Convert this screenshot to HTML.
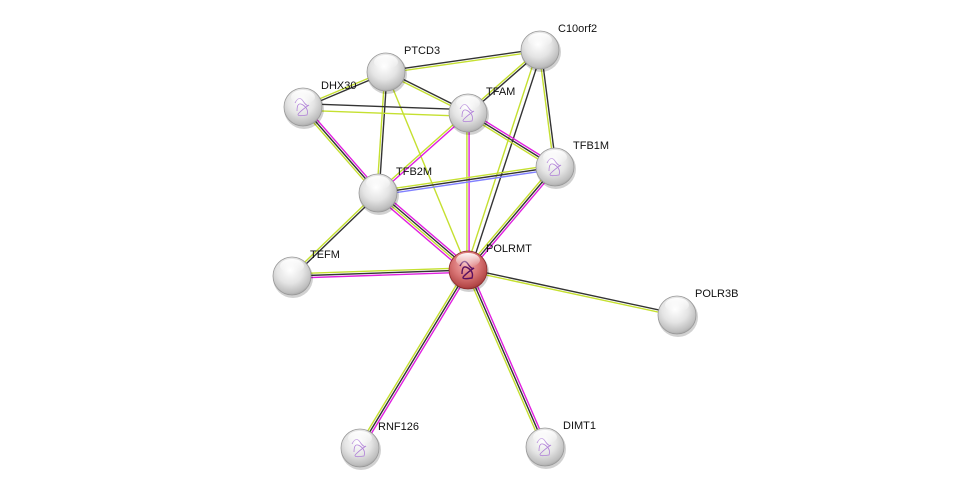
<!DOCTYPE html>
<html><head><meta charset="utf-8"><style>
html,body{margin:0;padding:0;background:#fff;}
svg{display:block;font-family:"Liberation Sans",sans-serif;}
</style></head><body>
<svg id="s" width="976" height="493" viewBox="0 0 976 493" xmlns="http://www.w3.org/2000/svg">
<defs>
<radialGradient id="g" cx="0.45" cy="0.35" r="0.7">
<stop offset="0" stop-color="#ffffff"/><stop offset="0.5" stop-color="#e4e4e4"/><stop offset="0.85" stop-color="#bdbdbd"/><stop offset="1" stop-color="#9a9a9a"/></radialGradient>
<radialGradient id="r" cx="0.45" cy="0.35" r="0.7">
<stop offset="0" stop-color="#f3b0b0"/><stop offset="0.5" stop-color="#d87474"/><stop offset="0.85" stop-color="#b44848"/><stop offset="1" stop-color="#8a2a2a"/></radialGradient>
<linearGradient id="hl" x1="0" y1="0" x2="0" y2="1"><stop offset="0" stop-color="#fff" stop-opacity="0.95"/><stop offset="1" stop-color="#fff" stop-opacity="0"/></linearGradient>
</defs>
<g id="edges"></g><g id="nodes"></g>
</svg>
<script>
var N={PTCD3:[386,72],C10orf2:[540,50],DHX30:[303,107],TFAM:[468,113],TFB1M:[555,167],TFB2M:[378,193],TEFM:[292,276],POLRMT:[468,270],POLR3B:[677,315],RNF126:[360,448],DIMT1:[545,447]};
var K='#333',Y='#c5e030',M='#e020e0',B='#8080ff';
var E=[["PTCD3","C10orf2",[K,Y]],["PTCD3","DHX30",[K,Y]],["PTCD3","TFAM",[K,Y]],["PTCD3","TFB2M",[K,Y]],["PTCD3","POLRMT",[Y]],
["C10orf2","TFAM",[K,Y]],["C10orf2","TFB1M",[K,Y]],["C10orf2","POLRMT",[K,'',Y]],["DHX30","TFAM",[K,'','',Y]],["DHX30","TFB2M",[M,K,Y]],
["TFAM","TFB2M",[M,Y]],["TFAM","POLRMT",[M,Y]],["TFAM","TFB1M",[M,K,Y]],["TFB1M","TFB2M",[B,K,Y]],["TFB1M","POLRMT",[M,K,Y]],
["TFB2M","POLRMT",[M,K,Y,M]],["TFB2M","TEFM",[K,Y]],["TEFM","POLRMT",[Y,K,M]],["POLRMT","POLR3B",[K,Y]],["POLRMT","RNF126",[M,K,Y]],["POLRMT","DIMT1",[M,K,Y]]];
var ns='http://www.w3.org/2000/svg',eg=document.getElementById('edges'),ng=document.getElementById('nodes');
E.forEach(function(e){var a=N[e[0]],b=N[e[1]],dx=b[0]-a[0],dy=b[1]-a[1],L=Math.hypot(dx,dy),px=-dy/L,py=dx/L,c=e[2],n=c.length;
c.forEach(function(col,i){if(!col)return;var o=(i-(n-1)/2)*2.2;var l=document.createElementNS(ns,'line');
l.setAttribute('x1',a[0]+px*o);l.setAttribute('y1',a[1]+py*o);l.setAttribute('x2',b[0]+px*o);l.setAttribute('y2',b[1]+py*o);
l.setAttribute('stroke',col);l.setAttribute('stroke-width',1.4);eg.appendChild(l);});});
var prot={DHX30:1,TFAM:1,TFB1M:1,POLRMT:1,RNF126:1,DIMT1:1};
for(var k in N){var p=N[k],x=p[0],y=p[1];
var h='<circle cx="'+(x+1)+'" cy="'+(y+2)+'" r="20" fill="#000" opacity="0.18"/>'+
'<circle cx="'+x+'" cy="'+y+'" r="19" fill="url(#'+(k=='POLRMT'?'r':'g')+')" stroke="'+(k=='POLRMT'?'#8a2a2a':'#999')+'" stroke-width="0.8"/>';
if(prot[k]){var c=k=='POLRMT'?'#5a1060':'#b080d8';h+='<path d="M'+(x-8)+' '+(y-4)+' q4 -8 8 -2 t6 4 q-6 4 -10 8 t8 2 q2 -6 -4 -10 t-6 6" fill="none" stroke="'+c+'" stroke-width="'+(k=='POLRMT'?1.4:0.8)+'"/>';}
h+='<ellipse cx="'+x+'" cy="'+(y-10)+'" rx="12" ry="7" fill="url(#hl)"/>';
h+='<text x="'+(x+18)+'" y="'+(y-18)+'" font-size="11" fill="#111">'+k+'</text>';
var g=document.createElementNS(ns,'g');g.innerHTML=h;ng.appendChild(g);}
</script>
</body></html>
